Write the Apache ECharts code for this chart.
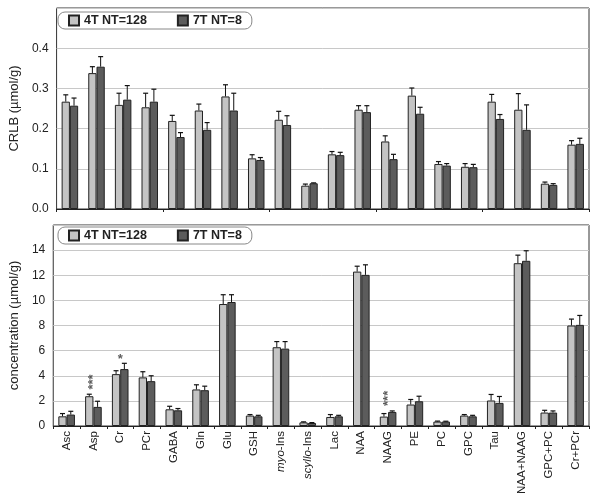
<!DOCTYPE html>
<html>
<head>
<meta charset="utf-8">
<script src="https://cdn.jsdelivr.net/npm/echarts@6/dist/echarts.min.js"></script>
<style>
  html,body{margin:0;padding:0;background:#fff}
  #main{width:600px;height:498px}
</style>
</head>
<body>
<div id="main"></div>
<script>
const categories = ['Asc','Asp','Cr','PCr','GABA','Gln','Glu','GSH','myo-Ins','scyllo-Ins','Lac','NAA','NAAG','PE','PC','GPC','Tau','NAA+NAAG','GPC+PC','Cr+PCr']

// CRLB (umol/g)
const crlb4T    = [0.267,0.338,0.259,0.253,0.219,0.245,0.280,0.126,0.222,0.058,0.136,0.247,0.168,0.282,0.112,0.105,0.267,0.247,0.063,0.160]
const crlb4TErr = [0.017,0.016,0.029,0.035,0.014,0.016,0.029,0.009,0.021,0.004,0.007,0.010,0.014,0.019,0.006,0.008,0.018,0.040,0.004,0.010]
const crlb7T    = [0.257,0.354,0.272,0.267,0.179,0.197,0.245,0.122,0.209,0.064,0.134,0.241,0.124,0.237,0.108,0.104,0.224,0.197,0.060,0.162]
const crlb7TErr = [0.019,0.025,0.035,0.031,0.011,0.018,0.043,0.006,0.023,0.001,0.007,0.016,0.012,0.016,0.005,0.007,0.011,0.062,0.003,0.014]

// concentration (umol/g)
const conc4T    = [0.77,2.37,4.13,3.87,1.33,2.91,9.71,0.83,6.27,0.29,0.72,12.29,0.75,1.71,0.35,0.83,2.03,12.96,1.07,8.00]
const conc4TErr = [0.22,0.16,0.27,0.45,0.24,0.37,0.74,0.08,0.45,0.04,0.19,0.43,0.24,0.40,0.04,0.08,0.48,0.64,0.18,0.51]
const conc7T    = [0.91,1.52,4.53,3.57,1.25,2.85,9.87,0.77,6.16,0.24,0.77,12.03,1.12,1.97,0.35,0.77,1.84,13.15,1.07,8.05]
const conc7TErr = [0.26,0.45,0.46,0.43,0.14,0.32,0.58,0.08,0.56,0.03,0.08,0.80,0.08,0.40,0.03,0.08,0.51,0.80,0.13,0.75]

// significance marks on the concentration panel
const starCats = ['Asp','Cr','NAAG']
const starVals = [3.5,5.3,2.2]
const starText = ['***','*','***']

const seriesNames = ['4T NT=128','7T NT=8']
const colors = ['#c4c4c4','#5c5c5c']

const chart = echarts.init(document.getElementById('main'))

const BAR_FRAC = 0.31

function errorSeries(vals, errs, side, xi, yi){
  return {
    type:'custom',
    xAxisIndex:xi, yAxisIndex:yi,
    z:5,
    silent:true,
    data: vals.map((v,i)=>[i, v, v+errs[i]]),
    renderItem(params, api){
      const catW = api.size([1,0])[0]
      const bw = catW*BAR_FRAC
      const base = api.coord([api.value(0), api.value(1)])
      const top = api.coord([api.value(0), api.value(2)])
      const x = base[0] + side*bw/2
      const cap = 2.5
      return {
        type:'group',
        children:[
          {type:'line', shape:{x1:x,y1:base[1],x2:x,y2:top[1]}, style:{stroke:'#111',lineWidth:1}},
          {type:'line', shape:{x1:x-cap,y1:top[1],x2:x+cap,y2:top[1]}, style:{stroke:'#111',lineWidth:1.2}}
        ]
      }
    }
  }
}

function barSeries(name, vals, color, xi, yi){
  return {
    name, type:'bar', xAxisIndex:xi, yAxisIndex:yi,
    data:vals,
    barWidth:(BAR_FRAC*100)+'%',
    barGap:'0%',
    itemStyle:{color, borderColor:'#222', borderWidth:1},
    emphasis:{disabled:true}
  }
}

const labelRich = {i:{fontStyle:'italic',fontSize:11.5,color:'#222',fontFamily:'Liberation Sans, Arial'}}
function xLabel(v){
  if(v==='myo-Ins') return '{i|myo}-Ins'
  if(v==='scyllo-Ins') return '{i|scyllo}-Ins'
  return v
}

const gridCommon = {left:47, right:11, show:true, borderColor:'#333', borderWidth:1, backgroundColor:'#fff'}

const legendCommon = {
  left:58, itemWidth:10, itemHeight:10, itemGap:30, icon:'rect',
  padding:[2,10,2,10],
  borderColor:'#888', borderWidth:1, borderRadius:7,
  textStyle:{fontWeight:'bold',fontSize:12.5,color:'#222',fontFamily:'Liberation Sans, Arial'},
  data:seriesNames,
  selectedMode:false
}

chart.setOption({
  animation:false,
  textStyle:{fontFamily:'Liberation Sans, Arial'},
  grid:[
    Object.assign({top:8, height:201}, gridCommon),
    Object.assign({top:225, height:201}, gridCommon)
  ],
  legend:[
    Object.assign({top:12}, legendCommon),
    Object.assign({top:227}, legendCommon)
  ],
  xAxis:[0,1].map(g=>({
    type:'category', gridIndex:g, data:categories,
    axisLine:{lineStyle:{color:'#222'}},
    axisTick:{show:true, length:3, lineStyle:{color:'#222'}},
    axisLabel: g===0 ? {show:false} : {
      rotate:90, fontSize:11.5, color:'#222', margin:5,
      formatter:xLabel, rich:labelRich
    }
  })),
  yAxis:[
    {
      type:'value', gridIndex:0, min:0, max:0.5, interval:0.1,
      name:'CRLB (µmol/g)', nameLocation:'middle', nameGap:29, nameRotate:90,
      nameTextStyle:{fontSize:13,color:'#222'},
      axisLine:{show:false}, axisTick:{show:false},
      axisLabel:{fontSize:12,color:'#222',showMaxLabel:false,formatter:v=>v.toFixed(1)},
      splitLine:{lineStyle:{color:'#c8c8c8'}}
    },
    {
      type:'value', gridIndex:1, min:0, max:16, interval:2,
      name:'concentration (µmol/g)', nameLocation:'middle', nameGap:27, nameRotate:90,
      nameTextStyle:{fontSize:13,color:'#222'},
      axisLine:{show:false}, axisTick:{show:false},
      axisLabel:{fontSize:12,color:'#222',showMaxLabel:false},
      splitLine:{lineStyle:{color:'#c8c8c8'}}
    }
  ],
  series:[
    barSeries(seriesNames[0], crlb4T, colors[0], 0, 0),
    barSeries(seriesNames[1], crlb7T, colors[1], 0, 0),
    errorSeries(crlb4T, crlb4TErr, -1, 0, 0),
    errorSeries(crlb7T, crlb7TErr, 1, 0, 0),
    barSeries(seriesNames[0], conc4T, colors[0], 1, 1),
    barSeries(seriesNames[1], conc7T, colors[1], 1, 1),
    errorSeries(conc4T, conc4TErr, -1, 1, 1),
    errorSeries(conc7T, conc7TErr, 1, 1, 1),
    {
      type:'scatter', xAxisIndex:1, yAxisIndex:1, symbolSize:0, silent:true,
      data: starCats.map((c,i)=>({
        value:[c, starVals[i]],
        label:{show:true, formatter:starText[i], rotate:starText[i].length>1?90:0,
          position:'inside', fontSize:13, fontWeight:'bold', color:'#333'}
      }))
    }
  ]
})
</script>
</body>
</html>
